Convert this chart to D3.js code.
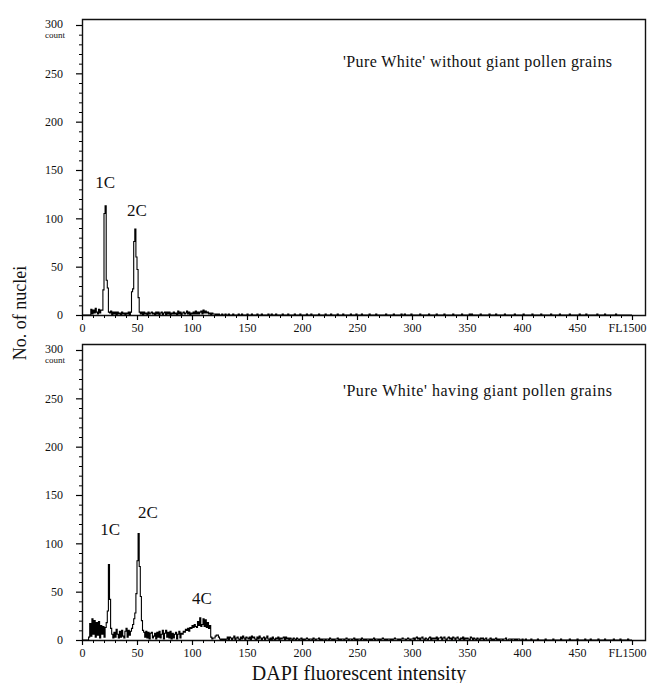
<!DOCTYPE html>
<html>
<head>
<meta charset="utf-8">
<script src="https://cdn.jsdelivr.net/npm/d3@7"></script>
<style>
  body { margin: 0; background: #fff; }
  svg { display: block; }
  text { font-family: "Liberation Serif", "DejaVu Serif", serif; fill: #111; }
</style>
</head>
<body>
<div id="chart"></div>
<script>
// axis ticks
var xTickValues = [0, 50, 100, 150, 200, 250, 300, 350, 400, 450, 500];
var xTickLabels = ['0', '50', '100', '150', '200', '250', '300', '350', '400', '450', 'FL1500'];
var yTickValues = [0, 50, 100, 150, 200, 250, 300];

var topTitle = "'Pure White' without giant pollen grains";
var bottomTitle = "'Pure White' having giant pollen grains";
var topPeaks = ['1C', '2C'];
var bottomPeaks = ['1C', '2C', '4C'];

// counts per channel, channel 0..499
var topCounts = [
  0,0,0,0,0,0,0,0,
  6,1,5,2,7,3,1,6,2,5,
  5,26,105,113,36,28,3,
  2,4,0,3,1,3,0,3,1,2,0,3,1,2,0,2,1,3,0,
  3,24,27,76,89,60,47,18,3,
  1,3,0,3,1,2,0,3,1,2,
  3,1,2,0,3,1,3,0,2,3,
  0,2,3,0,3,1,3,0,2,1,
  3,1,2,0,4,1,3,0,2,3,
  1,2,4,1,3,0,2,1,3,1,
  4,1,3,1,3,4,1,5,2,4,
  2,3,1,2,0,2,1,1,0,1,
  0,1,0,0,1,0,0,1,0,0,
  1,0,0,0,1,0,0,0,0,1,0,0,1,0,0,0,0,1,0,0,
  0,1,0,0,0,0,1,0,0,0,1,0,0,0,0,0,1,0,0,1,
  0,0,0,1,0,0,0,0,0,1,0,0,0,0,1,0,0,0,0,0,
  1,0,0,0,0,1,0,0,0,0,0,1,0,0,0,1,0,0,0,0,
  0,0,1,0,0,0,0,0,1,0,0,0,0,1,0,0,0,0,0,1,
  0,0,0,0,1,0,0,0,0,0,0,1,0,0,0,0,1,0,0,0,
  0,1,0,0,0,0,0,0,1,0,0,0,0,0,1,0,0,0,0,0,
  0,0,0,1,0,0,0,0,0,0,1,0,0,0,0,0,0,1,0,0,
  1,0,0,0,0,0,1,0,0,0,0,0,0,0,1,0,0,0,0,0,
  0,0,1,0,0,0,0,0,0,1,0,0,0,0,0,0,1,0,0,0,
  0,0,0,0,1,0,0,0,0,0,0,0,1,0,0,0,0,0,0,1,
  0,1,0,0,0,0,0,0,0,1,0,0,0,0,0,0,0,1,0,0,
  0,0,0,1,0,0,0,0,0,0,0,1,0,0,0,0,0,0,0,0,
  1,0,0,0,0,0,0,0,1,0,0,0,0,0,0,0,1,0,0,0,
  0,0,0,0,1,0,0,0,0,0,0,0,0,1,0,0,0,0,0,0,
  0,1,0,0,0,0,0,0,0,0,1,0,0,0,0,0,0,0,0,1,
  0,0,0,0,0,1,0,0,0,0,0,0,0,0,0,1,0,0,0,0,
  0,0,1,0,0,0,0,0,0,0,0,0,1,0,0,0,0,0,0,0,
  0,0,0,0,0,0,0
];

var bottomCounts = [
  0,0,0,0,0,0,
  3,17,4,22,6,20,3,18,5,19,2,15,6,14,3,
  13,18,30,78,42,12,6,
  2,8,3,11,6,2,9,3,10,4,2,9,12,3,10,5,9,12,16,
  22,28,48,82,110,76,45,20,10,8,
  3,9,2,8,1,7,8,2,4,7, 1,8,3,9,2,6,10,1,7,10,
  3,8,2,9,1,7,2,6,8,1, 6,9,2,7,
  6,9,8,11,10,12,9,13,12,15, 13,16,14,13,19,15,23,14,16,22,
  14,21,13,18,12,15,3,
  1,2,2,4,5,5,3,1,0,1,0,1,0,
  1,3,0,3,2,0,2,4,0,2,3,1,0,3,1,4,2,0,3,2,
  1,3,0,4,2,3,1,0,3,1,4,2,0,2,3,0,2,4,1,0,
  2,0,3,1,0,2,1,3,0,2,1,2,3,0,3,1,2,0,2,1,
  0,2,1,0,2,1,0,1,2,0,
  1,0,1,2,1,0,1,1,0,2,1,0,1,1,2,0,1,0,1,1,
  0,1,1,0,2,1,0,1,0,1,1,2,0,1,0,1,1,0,1,2,
  1,0,1,1,0,1,2,0,1,0,1,1,0,2,1,0,1,0,1,1,
  0,1,0,1,2,0,1,1,0,1,0,1,2,1,0,1,0,1,1,0,
  1,0,1,2,1,1,0,1,0,1,2,1,1,0,1,2,1,0,1,1,
  2,0,2,3,1,2,0,2,3,1,0,2,1,0,2,3,0,2,1,2,
  1,3,0,2,2,3,0,2,3,1,0,2,3,1,2,0,3,2,0,2,
  3,1,0,2,1,3,0,2,1,2,1,0,3,2,0,2,1,0,2,1,
  0,2,1,2,0,1,2,0,0,1,2,0,1,0,1,2,0,1,0,1,
  1,0,1,1,2,0,0,1,1,0,1,1,0,1,0,1,1,0,0,1,
  0,0,1,0,0,0,0,1,0,0,0,0,0,1,0,0,0,0,0,0,
  1,0,0,0,0,0,0,1,0,0,0,0,0,0,1,0,0,0,0,0,
  0,0,1,0,0,0,0,0,0,1,0,0,0,0,0,0,1,0,0,0,
  0,1,0,0,0,0,0,0,1,0,0,0,0,0,1,0,0,0,0,0,
  0,0,1,0,0,0,0,0,1,0,0,0,0,0,0,1,0,0,0
];

var width = 648, height = 683;

var svg = d3.select('#chart').append('svg')
    .attr('width', width)
    .attr('height', height);

svg.append('rect').attr('width', width).attr('height', height).attr('fill', '#fff');

var x = d3.scaleLinear().domain([0, 500]).range([82, 632]);
var frameRight = 645;

function drawPanel(opts) {
    var g = svg.append('g');
    var y = d3.scaleLinear().domain([0, 300]).range([opts.axisY, opts.axisY - 290]);
    var x0 = x(0) + 0.5;

    // frame (left axis, top, right, bottom axis)
    g.append('path')
        .attr('d', 'M' + x0 + ',' + (opts.frameTop + 0.5) + 'H' + (frameRight + 0.5) +
              'V' + (opts.axisY + 0.5) + 'H' + x0 + 'Z')
        .attr('fill', 'none')
        .attr('stroke', '#111')
        .attr('stroke-width', 1.4);

    // y axis, major + minor
    g.append('g')
        .attr('transform', 'translate(' + x(0) + ',0)')
        .call(d3.axisLeft(y).tickValues(d3.range(0, 301, 10).filter(function(v) { return v % 50; }))
            .tickSize(3).tickFormat(''))
        .call(function(a) { a.select('.domain').remove(); });

    var yAx = g.append('g')
        .attr('transform', 'translate(' + x(0) + ',0)')
        .call(d3.axisLeft(y).tickValues(yTickValues).tickSize(6).tickPadding(13))
        .call(function(a) { a.select('.domain').remove(); });
    yAx.selectAll('text').attr('font-size', 12).attr('font-family', null).attr('fill', '#111');
    yAx.selectAll('text').filter(function(d) { return d === 300; }).attr('dy', '0.2em');
    yAx.selectAll('line').attr('stroke-width', 1.2);

    g.append('text')
        .attr('x', 45)
        .attr('y', y(300) + 13)
        .attr('font-size', 9)
        .text('count');

    // x axis, major + minor
    g.append('g')
        .attr('transform', 'translate(0,' + opts.axisY + ')')
        .call(d3.axisBottom(x).tickValues(d3.range(0, 501, 10).filter(function(v) { return v % 50; }))
            .tickSize(3).tickFormat(''))
        .call(function(a) { a.select('.domain').remove(); });

    var xAx = g.append('g')
        .attr('transform', 'translate(0,' + opts.axisY + ')')
        .call(d3.axisBottom(x).tickValues(xTickValues).tickSize(5).tickPadding(3)
            .tickFormat(function(d, i) { return xTickLabels[i]; }))
        .call(function(a) { a.select('.domain').remove(); });
    xAx.selectAll('text').attr('font-size', 12).attr('font-family', null).attr('fill', '#111');
    xAx.selectAll('text').filter(function(d) { return d === 500; })
        .attr('text-anchor', 'end').attr('dx', 14);
    xAx.selectAll('line').attr('stroke-width', 1.2);

    // histogram as a step outline
    var pts = opts.counts.map(function(c, i) { return [i, c]; });
    pts.push([opts.counts.length, 0]);

    var line = d3.line()
        .x(function(d) { return x(d[0]); })
        .y(function(d) { return y(d[1]); })
        .curve(d3.curveStepAfter);

    g.append('path')
        .datum(pts)
        .attr('d', line)
        .attr('fill', 'none')
        .attr('stroke', '#000')
        .attr('stroke-width', 1.1);

    // peak labels
    opts.peaks.forEach(function(name, i) {
        var p = opts.peakPos[i];
        g.append('text')
            .attr('x', x(p[0]))
            .attr('y', y(p[1]))
            .attr('text-anchor', 'middle')
            .attr('font-size', 17)
            .text(name);
    });

    g.append('text')
        .attr('x', 343)
        .attr('y', opts.titleY)
        .attr('font-size', 16)
        .attr('textLength', 269)
        .attr('lengthAdjust', 'spacing')
        .text(opts.title);
}

drawPanel({
    frameTop: 19,
    axisY: 315,
    counts: topCounts,
    peaks: topPeaks,
    peakPos: [[21, 131], [50, 102]],
    title: topTitle,
    titleY: 67
});

drawPanel({
    frameTop: 344,
    axisY: 640,
    counts: bottomCounts,
    peaks: bottomPeaks,
    peakPos: [[25.5, 109], [60, 126], [109, 37]],
    title: bottomTitle,
    titleY: 396
});

svg.append('text')
    .attr('transform', 'translate(26,313) rotate(-90)')
    .attr('text-anchor', 'middle')
    .attr('font-size', 18)
    .text('No. of nuclei');

svg.append('text')
    .attr('x', 359)
    .attr('y', 680)
    .attr('text-anchor', 'middle')
    .attr('font-size', 20)
    .text('DAPI fluorescent intensity');
</script>
</body>
</html>
